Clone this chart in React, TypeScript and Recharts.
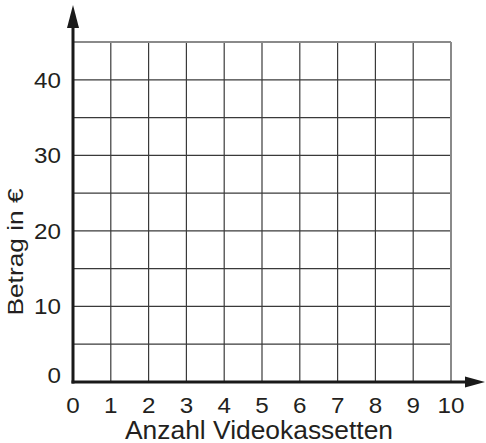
import React from "react";
import { LineChart, XAxis, YAxis, CartesianGrid, ReferenceLine, Label } from "recharts";

const xTicks = [0, 1, 2, 3, 4, 5, 6, 7, 8, 9, 10];
const yTicks = [0, 5, 10, 15, 20, 25, 30, 35, 40, 45];
const yLabelled = [0, 10, 20, 30, 40];
const xTitle = "Anzahl Videokassetten";
const yTitle = "Betrag in €";
const data = xTicks.map((x) => ({ x }));

const FONT = "'Liberation Sans', Arial, sans-serif";
const STRETCH = 1.1;

const ArrowLine = (props: any) => {
  const { x1, y1, x2, y2, vertical } = props;
  const len = vertical ? 23 : 20;
  const half = vertical ? 6 : 5.5;
  let pts = "";
  let lx2 = x2, ly2 = y2;
  if (vertical) {
    pts = `${x2},${y2} ${x2 - half},${y2 + len} ${x2 + half},${y2 + len}`;
    ly2 = y2 + len - 1;
  } else {
    pts = `${x2},${y2} ${x2 - len},${y2 - half} ${x2 - len},${y2 + half}`;
    lx2 = x2 - len + 1;
  }
  return (
    <g>
      <line x1={vertical ? x1 : x1 - 1.5} y1={vertical ? y1 + 1.5 : y1} x2={lx2} y2={ly2} stroke="#1a1a1a" strokeWidth={3} />
      <polygon points={pts} fill="#1a1a1a" />
    </g>
  );
};

const YTick = (props: any) => {
  const { x, y, payload } = props;
  if (!yLabelled.includes(payload.value)) return null;
  const dy = payload.value === 0 ? -7 : 0;
  return (
    <g transform={`translate(${x},${y + dy}) scale(${STRETCH},1)`}>
      <text x={0} y={0} dy="0.36em" textAnchor="end" fontFamily={FONT} fontSize={22} fill="#231f20">
        {payload.value}
      </text>
    </g>
  );
};

const XTick = (props: any) => {
  const { x, y, payload } = props;
  return (
    <g transform={`translate(${x},${y - 1}) scale(${STRETCH},1)`}>
      <text x={0} y={0} dy="0.71em" textAnchor="middle" fontFamily={FONT} fontSize={22} fill="#231f20">
        {payload.value}
      </text>
    </g>
  );
};

const XTitle = (props: any) => {
  const vb = props.viewBox;
  return (
    <text x={vb.x + vb.width / 2 - 3} y={vb.y + 57} textAnchor="middle" fontFamily={FONT} fontSize={25} fill="#231f20" textLength={268} lengthAdjust="spacingAndGlyphs">
      {xTitle}
    </text>
  );
};

const YTitle = (props: any) => {
  const vb = props.viewBox;
  const cx = 22.5;
  const cy = vb.y + vb.height / 2 + 40;
  return (
    <text x={cx} y={cy} transform={`rotate(-90 ${cx} ${cy})`} textAnchor="middle" fontFamily={FONT} fontSize={22} fill="#231f20" textLength={127} lengthAdjust="spacingAndGlyphs">
      {yTitle}
    </text>
  );
};

export default function App() {
  return (
    <div style={{ position: "absolute", left: 0, top: 0, width: 486, height: 443, background: "#fff" }}>
      <LineChart width={486} height={443} data={data} margin={{ top: 42, right: 35, left: 0, bottom: 0 }}>
        <CartesianGrid stroke="#3a3a3a" strokeWidth={1.2} />
        <XAxis
          dataKey="x"
          type="number"
          domain={[0, 10]}
          ticks={xTicks}
          allowDataOverflow
          axisLine={false}
          tickLine={false}
          height={61}
          tickMargin={10}
          tick={<XTick />}
          interval={0}
        >
          <Label content={<XTitle />} />
        </XAxis>
        <YAxis
          type="number"
          domain={[0, 45]}
          ticks={yTicks}
          allowDataOverflow
          axisLine={false}
          tickLine={false}
          width={73}
          tickMargin={6}
          tick={<YTick />}
          interval={0}
        >
          <Label content={<YTitle />} />
        </YAxis>
        <ReferenceLine y={45} stroke="#8a8a8a" strokeWidth={2} />
        <ReferenceLine x={10} stroke="#8a8a8a" strokeWidth={2} />
        <ReferenceLine
          segment={[{ x: 0, y: 0 }, { x: 0, y: 49.9 }]}
          ifOverflow="visible"
          shape={(p: any) => <ArrowLine {...p} vertical />}
        />
        <ReferenceLine
          segment={[{ x: 0, y: 0 }, { x: 10.9, y: 0 }]}
          ifOverflow="visible"
          shape={(p: any) => <ArrowLine {...p} />}
        />
      </LineChart>
    </div>
  );
}
